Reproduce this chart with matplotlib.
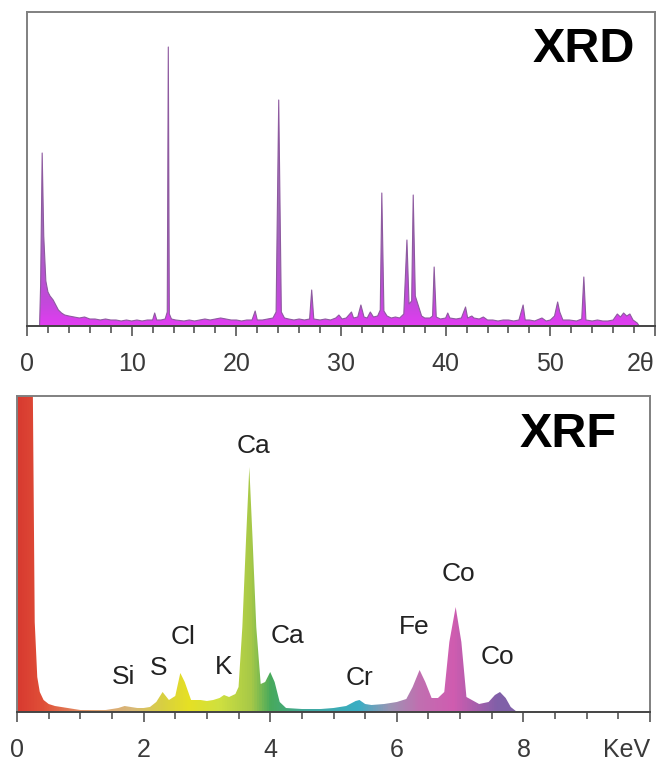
import matplotlib.pyplot as plt
import numpy as np
from matplotlib.colors import LinearSegmentedColormap
from matplotlib.patches import Polygon

plt.rcParams['font.family'] = ['Liberation Sans', 'DejaVu Sans']

# XRD pattern (2-theta, intensity in arbitrary units)
xrd_2theta = [1.2, 1.3, 1.45, 1.6, 1.8, 2.0, 2.2, 2.5, 2.8, 3.0, 3.3, 3.6, 4.0, 4.5, 5.0,
              5.5, 6.0, 6.5, 7.0, 7.5, 8.0, 8.5, 9.0, 9.5, 10.0, 10.5, 11.0, 11.5, 12.0,
              12.2, 12.4, 12.8, 13.2, 13.4, 13.5, 13.6, 13.8, 14.2, 15.0, 15.5, 16.0,
              16.5, 17.0, 17.5, 18.0, 18.5, 19.0, 19.5, 20.0, 20.5, 21.0, 21.5, 21.8,
              22.0, 22.5, 23.0, 23.5, 23.8, 24.05, 24.3, 24.6, 25.0, 25.5, 26.0, 26.5,
              27.0, 27.2, 27.4, 28.0, 28.5, 29.0, 29.5, 29.8, 30.1, 30.5, 31.0, 31.2,
              31.6, 31.9, 32.2, 32.5, 32.8, 33.1, 33.5, 33.75, 33.9, 34.1, 34.4, 34.8,
              35.2, 35.6, 36.0, 36.3, 36.5, 36.75, 36.9, 37.1, 37.4, 37.7, 38.0, 38.5,
              38.75, 38.9, 39.1, 39.5, 40.0, 40.2, 40.4, 41.0, 41.5, 41.9, 42.1, 42.5,
              42.7, 43.2, 43.6, 44.0, 44.5, 45.0, 45.5, 46.0, 46.5, 47.0, 47.4, 47.6,
              48.0, 48.5, 49.2, 49.6, 50.0, 50.4, 50.7, 50.9, 51.2, 51.8, 52.5, 53.0,
              53.2, 53.4, 54.0, 54.5, 55.0, 55.5, 56.0, 56.4, 56.7, 57.0, 57.3, 57.6,
              57.9, 58.3, 58.5]
xrd_counts = [0, 40, 173, 90, 45, 34, 30, 26, 20, 16, 13, 11, 10, 9, 8,
              9, 7, 7, 6, 7, 6, 6, 5, 6, 5, 6, 5, 6, 6,
              13, 6, 6, 7, 14, 279, 12, 7, 6, 5, 6, 5,
              6, 7, 6, 7, 8, 7, 6, 6, 5, 6, 6, 15,
              6, 6, 7, 8, 14, 226, 14, 8, 7, 6, 7, 6,
              7, 36, 7, 6, 7, 6, 8, 11, 7, 8, 14, 8,
              9, 21, 9, 8, 14, 9, 10, 16, 133, 15, 10, 8,
              9, 8, 12, 86, 22, 25, 131, 30, 20, 10, 8, 8,
              10, 59, 9, 7, 8, 13, 8, 7, 8, 19, 8, 10,
              8, 7, 9, 6, 6, 5, 6, 6, 5, 6, 21, 6,
              6, 5, 8, 5, 6, 10, 24, 14, 6, 6, 5, 7,
              49, 6, 5, 6, 5, 5, 6, 12, 9, 13, 10, 12,
              6, 3, 0]

# XRF spectrum (energy in keV, counts in arbitrary units)
xrf_kev = [0.0, 0.24, 0.28, 0.32, 0.36, 0.42, 0.5, 0.6, 0.8, 1.0, 1.2, 1.4, 1.5, 1.6, 1.7,
           1.8, 1.9, 2.0, 2.1, 2.2, 2.3, 2.4, 2.5, 2.58, 2.65, 2.75, 2.9, 3.0, 3.1, 3.2,
           3.27, 3.35, 3.45, 3.5, 3.56, 3.62, 3.67, 3.72, 3.78, 3.85, 3.92, 4.0, 4.07,
           4.15, 4.25, 4.5, 4.8, 5.0, 5.2, 5.35, 5.41, 5.5, 5.6, 5.8, 6.0, 6.15, 6.25,
           6.36, 6.45, 6.55, 6.65, 6.75, 6.83, 6.93, 7.02, 7.1, 7.3, 7.45, 7.55, 7.63,
           7.72, 7.8, 7.9]
xrf_counts = [400, 400, 90, 35, 20, 12, 8, 6, 4, 2, 2, 2, 3, 4, 6,
              5, 4, 4, 5, 10, 20, 12, 16, 39, 30, 12, 12, 11, 12, 14,
              17, 15, 18, 25, 85, 175, 245, 175, 85, 28, 30, 40, 30,
              10, 4, 3, 3, 4, 6, 11, 12, 8, 7, 8, 10, 13, 25,
              42, 30, 14, 14, 20, 70, 105, 70, 15, 8, 10, 17, 20,
              14, 5, 0]

xrf_labels = ['Si', 'S', 'Cl', 'K', 'Ca', 'Ca', 'Cr', 'Fe', 'Co', 'Co']
xrf_label_x = [1.68, 2.23, 2.63, 3.27, 3.74, 4.28, 5.41, 6.27, 6.97, 7.59]
xrf_label_y = [35, 44, 75, 45, 266, 76, 34, 85, 138, 55]


def area_patch(ax, xs, ys):
    # closed outline down to the baseline, used to clip the colour gradient
    verts = [(xs[0], 0)] + list(zip(xs, ys)) + [(xs[-1], 0)]
    p = Polygon(verts, closed=True, facecolor='none', edgecolor='none',
                transform=ax.transData)
    ax.add_patch(p)
    return p


fig = plt.figure(figsize=(6.59, 7.61), dpi=100)

# ---- XRD ----
ax1 = fig.add_axes([27/659, 1 - 326/761, 628/659, 314/761])
ax1.set_xlim(0, 60)
ax1.set_ylim(0, 314)

xrd_cmap = LinearSegmentedColormap.from_list(
    'xrd', [(0, '#e23cf2'), (0.07, '#c448dc'), (0.3, '#a266bc'), (1, '#a08aae')])
grad = np.linspace(0, 1, 256).reshape(-1, 1)
im = ax1.imshow(grad, cmap=xrd_cmap, origin='lower', aspect='auto',
                extent=[0, 60, 0, 314], zorder=1)
im.set_clip_path(area_patch(ax1, xrd_2theta, xrd_counts))
ax1.plot(xrd_2theta, xrd_counts, color='#8e5aa0', lw=0.8, zorder=2)

ax1.set_xticks(range(0, 61, 10))
ax1.set_xticklabels(['0', '10', '20', '30', '40', '50', '2\u03b8'])
ax1.set_xticks(range(0, 61, 2), minor=True)
ax1.get_xticklabels()[-1].set_ha('right')
ax1.set_yticks([])
ax1.text(0.968, 0.879, 'XRD', transform=ax1.transAxes, ha='right', va='center',
         fontsize=35, fontweight='bold')

# ---- XRF ----
ax2 = fig.add_axes([17/659, 1 - 712/761, 633/659, 316/761])
ax2.set_xlim(0, 10)
ax2.set_ylim(0, 316)

xrf_cmap = LinearSegmentedColormap.from_list(
    'xrf', [(0.0, '#d83a30'), (0.04, '#e05038'), (0.12, '#e0a070'), (0.18, '#d8b878'),
            (0.23, '#d8d040'), (0.27, '#e6e024'), (0.32, '#cfe040'), (0.37, '#a6c848'),
            (0.40, '#48aa5c'), (0.46, '#40a8a0'), (0.54, '#3aaec4'), (0.59, '#9c94b4'),
            (0.635, '#c070b0'), (0.69, '#d05cb0'), (0.76, '#8060a8'), (1.0, '#8060a8')])
grad2 = np.linspace(0, 1, 512).reshape(1, -1)
im2 = ax2.imshow(grad2, cmap=xrf_cmap, aspect='auto', extent=[0, 10, 0, 316], zorder=1)
im2.set_clip_path(area_patch(ax2, xrf_kev, xrf_counts))

for lab, lx, ly in zip(xrf_labels, xrf_label_x, xrf_label_y):
    ax2.text(lx, ly, lab, ha='center', va='center', fontsize=19, color='#222222')

ax2.set_xticks(range(0, 11, 2))
ax2.set_xticklabels(['0', '2', '4', '6', '8', 'KeV'])
ax2.set_xticks(np.arange(0, 10.01, 0.5), minor=True)
ax2.get_xticklabels()[-1].set_ha('right')
ax2.set_yticks([])
ax2.text(0.948, 0.877, 'XRF', transform=ax2.transAxes, ha='right', va='center',
         fontsize=35, fontweight='bold')

for ax in (ax1, ax2):
    for s in ('left', 'right', 'top'):
        ax.spines[s].set_color('#808080')
        ax.spines[s].set_linewidth(1.4)
    ax.spines['bottom'].set_color('#444444')
    ax.spines['bottom'].set_linewidth(1.4)
    ax.spines['bottom'].set_zorder(3)
    ax.tick_params(axis='x', which='major', direction='out', length=7, width=1.2,
                   color='#555555', labelsize=18, pad=12, labelcolor='#3a3a3a')
    ax.tick_params(axis='x', which='minor', direction='out', length=5, width=1.2,
                   color='#555555')

fig.savefig('out.png', dpi=100)
